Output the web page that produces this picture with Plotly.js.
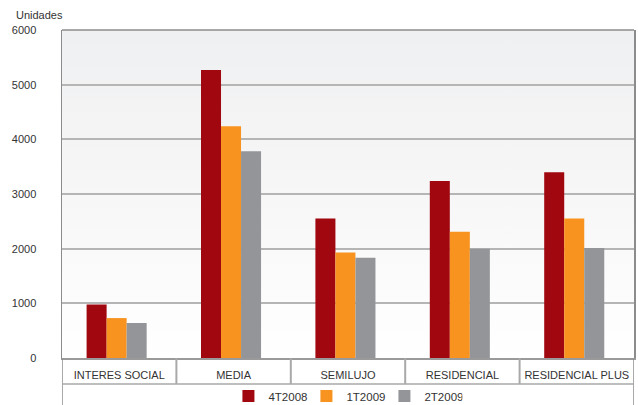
<!DOCTYPE html>
<html><head><meta charset="utf-8">
<script src="https://cdn.plot.ly/plotly-3.0.1.min.js"></script>
<style>html,body{margin:0;padding:0;background:#fff}#c{width:638px;height:405px}</style>
</head><body><div id="c"></div>
<script>
const categories = ["INTERES SOCIAL", "MEDIA", "SEMILUJO", "RESIDENCIAL", "RESIDENCIAL PLUS"];
const series4T2008 = [980, 5270, 2550, 3240, 3400];
const series1T2009 = [730, 4240, 1930, 2310, 2550];
const series2T2009 = [640, 3780, 1835, 2000, 2010];
const seriesNames = ["4T2008", "1T2009", "2T2009"];
const yTicks = [0, 1000, 2000, 3000, 4000, 5000, 6000];

const colors = ["#a0070f", "#f7931e", "#939598"];
const offsets = [-0.285, -0.11, 0.065];
const barW = 0.175;
const allSeries = [series4T2008, series1T2009, series2T2009];

const traces = allSeries.map((vals, i) => ({
  type: "bar", x: categories, y: vals, name: seriesNames[i],
  marker: {color: colors[i], line: {width: 0}},
  width: barW, offset: offsets[i], hoverinfo: "skip"
}));

const svg = "<svg xmlns='http://www.w3.org/2000/svg' width='10' height='100' preserveAspectRatio='none'><defs><linearGradient id='g' x1='0' y1='0' x2='0' y2='1'><stop offset='0' stop-color='#eff0f1'/><stop offset='0.45' stop-color='#f6f6f7'/><stop offset='1' stop-color='#ffffff'/></linearGradient></defs><rect width='10' height='100' fill='url(#g)'/></svg>";
const bgSrc = "data:image/svg+xml;base64," + btoa(svg);

const plotH = 405 - 30 - 47;
const shapes = [];
const lineCol = "#a9a9a9";
for (let k = 0; k <= categories.length; k++) {
  const edge = (k === 0 || k === categories.length);
  shapes.push({type: "line", xref: "x", yref: "paper", x0: k - 0.5, x1: k - 0.5,
    y0: edge ? -47 / plotH : -26 / plotH, y1: 0,
    line: {color: edge ? "#8c8c8c" : lineCol, width: edge ? 1.5 : 2}});
}
shapes.push({type: "line", xref: "paper", yref: "paper", x0: 0, x1: 1, y0: -26 / plotH, y1: -26 / plotH,
  line: {color: lineCol, width: 1.5}});
shapes.push({type: "line", xref: "paper", yref: "paper", x0: 0, x1: 1, y0: 1, y1: 1,
  line: {color: "#8c8c8c", width: 1.5}});

const layout = {
  width: 638, height: 405,
  margin: {l: 62, r: 4, t: 30, b: 47, autoexpand: false},
  paper_bgcolor: "#ffffff",
  plot_bgcolor: "rgba(0,0,0,0)",
  font: {family: "Arial, Liberation Sans, sans-serif", size: 11, color: "#333333"},
  barmode: "overlay",
  showlegend: true,
  legend: {orientation: "h", x: 0.4955, xanchor: "center", y: -38 / plotH, yanchor: "middle",
    entrywidth: 33, entrywidthmode: "pixels",
    font: {size: 11.5, color: "#333"}, bgcolor: "rgba(0,0,0,0)", traceorder: "normal"},
  xaxis: {type: "category", range: [-0.5, categories.length - 0.5], ticks: "", showgrid: false,
    showline: true, linecolor: "#9a9a9a", linewidth: 2, mirror: false, automargin: false,
    tickfont: {size: 11, color: "#333"}, ticklabelstandoff: 6, fixedrange: true},
  yaxis: {range: [0, 6000], tickvals: yTicks, ticktext: yTicks.map(String), ticks: "",
    showgrid: true, gridcolor: "#b5b5b5", gridwidth: 2, zeroline: false, automargin: false,
    showline: true, linecolor: "#8c8c8c", linewidth: 1.5, mirror: true,
    ticklabelstandoff: 22, tickfont: {size: 11, color: "#333"}, fixedrange: true},
  images: [{source: bgSrc, xref: "paper", yref: "paper", x: 0, y: 1, sizex: 1, sizey: 1,
    xanchor: "left", yanchor: "top", sizing: "stretch", layer: "below"}],
  shapes: shapes,
  annotations: [{text: "Unidades", xref: "paper", yref: "paper", x: -48 / 572, y: 1 + 15 / plotH,
    xanchor: "left", yanchor: "middle", showarrow: false, font: {size: 11, color: "#333"}}]
};

Plotly.newPlot("c", traces, layout, {displayModeBar: false, staticPlot: true});
</script></body></html>
